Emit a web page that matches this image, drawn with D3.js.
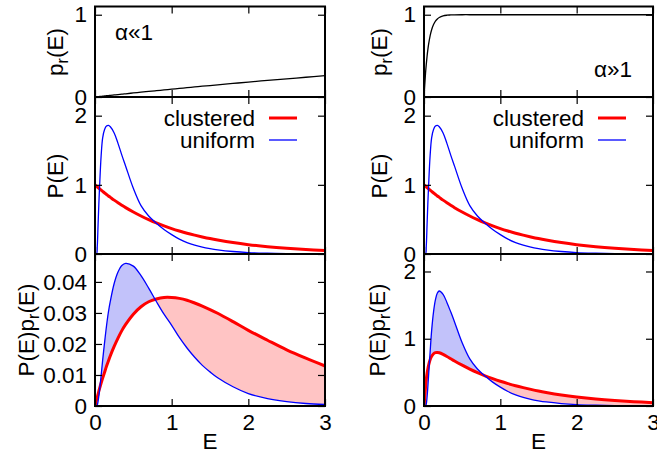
<!DOCTYPE html>
<html>
<head>
<meta charset="utf-8">
<script src="https://cdn.jsdelivr.net/npm/d3@7"></script>
<style>
  html, body { margin: 0; padding: 0; background: #fff; }
  svg { display: block; }
  text { font-family: "Liberation Sans", Arial, Helvetica, sans-serif; fill: #000; }
</style>
</head>
<body>
<svg id="chart" width="657" height="454"></svg>
<script>
// Energy grid shared by every curve
const E = [0, 0.02, 0.03, 0.04, 0.05, 0.06, 0.08, 0.1, 0.125, 0.15, 0.175, 0.2, 0.25, 0.3, 0.35, 0.4,
           0.5, 0.6, 0.7, 0.8, 0.9, 1.0, 1.1, 1.2, 1.3, 1.4, 1.5, 1.6, 1.8, 2.0, 2.25, 2.5, 2.75, 3.0];

// Response probability p_r(E), weak (alpha << 1) and strong (alpha >> 1) case
const prLow = [0, 0.002, 0.003, 0.004, 0.005, 0.006, 0.008, 0.010, 0.012, 0.015, 0.017, 0.020, 0.025, 0.030, 0.034, 0.039,
               0.049, 0.058, 0.068, 0.077, 0.086, 0.095, 0.104, 0.113, 0.122, 0.131, 0.139, 0.148, 0.165, 0.181, 0.202, 0.221, 0.240, 0.259];
const prHigh = [0, 0.288, 0.40, 0.493, 0.573, 0.639, 0.743, 0.817, 0.881, 0.922, 0.949, 0.967, 0.986, 0.994, 0.997, 0.999,
                1, 1, 1, 1, 1, 1, 1, 1, 1, 1, 1, 1, 1, 1, 1, 1, 1, 1];

// Energy distributions P(E)
const pClustered = [1, 0.980, 0.970, 0.961, 0.951, 0.942, 0.923, 0.905, 0.882, 0.861, 0.839, 0.819, 0.779, 0.741, 0.705, 0.670,
                    0.607, 0.549, 0.497, 0.449, 0.407, 0.368, 0.333, 0.301, 0.273, 0.247, 0.223, 0.202, 0.165, 0.135, 0.105, 0.082, 0.064, 0.050];
const pUniform = [0, 0, 0.12, 0.42, 0.72, 0.98, 1.42, 1.68, 1.80, 1.85, 1.86, 1.84, 1.75, 1.60, 1.43, 1.27,
                  0.95, 0.70, 0.55, 0.445, 0.355, 0.28, 0.215, 0.165, 0.127, 0.098, 0.077, 0.06, 0.036, 0.021, 0.012, 0.0065, 0.0035, 0.002];

// Products P(E) p_r(E)
const prodClusteredLow = [0, 0.0020, 0.0029, 0.0038, 0.0048, 0.0057, 0.0074, 0.0090, 0.0109, 0.0128, 0.0145, 0.0162, 0.0192, 0.0219, 0.0243, 0.0263,
                          0.0296, 0.0320, 0.0336, 0.0345, 0.0350, 0.0350, 0.0347, 0.0341, 0.0332, 0.0322, 0.0311, 0.0299, 0.0272, 0.0244, 0.0212, 0.0181, 0.0154, 0.0129];
const prodUniformLow = [0, 0, 0.0003, 0.0015, 0.0032, 0.0052, 0.0098, 0.0148, 0.0205, 0.0258, 0.0303, 0.0338, 0.0395, 0.0432, 0.0453, 0.0460,
                        0.0451, 0.0420, 0.0380, 0.0337, 0.0296, 0.0260, 0.0221, 0.0187, 0.0157, 0.0131, 0.0110, 0.0091, 0.0062, 0.0040, 0.0024, 0.0014, 0.0008, 0.0005];
const prodClusteredHigh = [0, 0.282, 0.395, 0.482, 0.550, 0.605, 0.686, 0.739, 0.777, 0.794, 0.796, 0.792, 0.768, 0.737, 0.703, 0.669,
                           0.607, 0.549, 0.497, 0.449, 0.407, 0.368, 0.333, 0.301, 0.273, 0.247, 0.223, 0.202, 0.165, 0.135, 0.105, 0.082, 0.064, 0.050];
const prodUniformHigh = [0, 0, 0.03, 0.13, 0.28, 0.45, 0.80, 1.12, 1.40, 1.58, 1.68, 1.71, 1.66, 1.54, 1.40, 1.25,
                         0.94, 0.70, 0.55, 0.445, 0.355, 0.28, 0.215, 0.165, 0.127, 0.098, 0.077, 0.06, 0.036, 0.021, 0.012, 0.0065, 0.0035, 0.002];

// Axis ticks
const xTicks = [0, 1, 2, 3];
const xTickLabels = ["0", "1", "2", "3"];
const prTicks = [0, 1];
const pTicks = [0, 1, 2];
const prodLowTicks = [0, 0.01, 0.02, 0.03, 0.04];
const prodLowTickLabels = ["0", "0.01", "0.02", "0.03", "0.04"];
const prodHighTicks = [0, 1, 2];

// Legend entries and regime labels
const seriesNames = ["clustered", "uniform"];
const regimeLabels = ["\u03b1\u00ab1", "\u03b1\u00bb1"];

// ---------------------------------------------------------------
const svg = d3.select("#chart");
const FONT = 22.5;
const SUB_FONT = 16;
const RED = "#ff0000", BLUE = "#0000ff";
const FILL_RED = "#ffc4c4", FILL_BLUE = "#c2c2fa";

const columns = [{ left: 95, right: 325 }, { left: 424, right: 653 }];
const rows = [{ top: 6.5, bottom: 97 }, { top: 97, bottom: 254 }, { top: 254, bottom: 406 }];

const curve = d3.curveCatmullRom.alpha(0.5);
let clipId = 0;

function makeX(col) {
  return d3.scaleLinear().domain([0, 3]).range([col.left, col.right]);
}

function drawFrame(g, x, y, row, yTicks, yFmt, showXLabels) {
  const tk = 7;
  const axes = [];
  // x ticks on bottom and top edges, pointing inward
  const xb = d3.axisBottom(x).tickValues(xTicks).tickSize(-tk).tickPadding(8);
  if (showXLabels) xb.tickFormat((d, i) => xTickLabels[i]);
  axes.push(g.append("g").attr("transform", `translate(0,${row.bottom})`).call(xb));
  axes.push(g.append("g").attr("transform", `translate(0,${row.top})`)
    .call(d3.axisTop(x).tickValues(xTicks).tickSize(-tk)));
  axes.push(g.append("g").attr("transform", `translate(${x.range()[0]},0)`)
    .call(d3.axisLeft(y).tickValues(yTicks).tickSize(-tk).tickPadding(8).tickFormat(yFmt)));
  axes.push(g.append("g").attr("transform", `translate(${x.range()[1]},0)`)
    .call(d3.axisRight(y).tickValues(yTicks).tickSize(-tk)));
  axes.forEach((a, k) => {
    a.select(".domain").remove();
    a.selectAll(".tick line").attr("stroke", "#000").attr("stroke-width", 1.2);
    const keepText = (k === 0 && showXLabels) || k === 2;
    if (keepText) {
      a.selectAll(".tick text").attr("font-size", FONT).attr("font-family", null).attr("fill", "#000");
    } else {
      a.selectAll(".tick text").remove();
    }
  });
  g.append("rect")
    .attr("x", x.range()[0]).attr("y", row.top)
    .attr("width", x.range()[1] - x.range()[0]).attr("height", row.bottom - row.top)
    .attr("fill", "none").attr("stroke", "#000").attr("stroke-width", 2);
}

function yTitle(g, cx, cy, parts) {
  const t = g.append("text")
    .attr("transform", `translate(${cx},${cy}) rotate(-90)`)
    .attr("text-anchor", "middle").attr("dy", "0.35em").attr("font-size", FONT);
  let shifted = false;
  parts.forEach(p => {
    const s = t.append("tspan").text(p.text);
    if (p.sub) {
      s.attr("font-size", SUB_FONT).attr("dy", 5);
      shifted = true;
    } else if (shifted) {
      s.attr("dy", -5);
      shifted = false;
    }
  });
}

const line = (x, y, vals) => d3.line().curve(curve)
  .x((d, i) => x(E[i])).y((d, i) => y(vals[i]))(vals);

// -------- top row: p_r(E)
function topPanel(colIdx, pr, label, labelPos) {
  const col = columns[colIdx], row = rows[0];
  const x = makeX(col);
  const y = d3.scaleLinear().domain([0, 1.1]).range([row.bottom, row.top]);
  const g = svg.append("g");
  g.append("path").attr("d", line(x, y, pr))
    .attr("fill", "none").attr("stroke", "#000").attr("stroke-width", 1.3);
  g.append("text").attr("font-size", FONT)
    .attr("x", labelPos.x).attr("y", labelPos.y)
    .attr("text-anchor", labelPos.anchor).text(label);
  drawFrame(g, x, y, row, prTicks, d => d3.format("d")(d), false);
  yTitle(g, colIdx === 0 ? 55 : 379, 52, [{ text: "p" }, { text: "r", sub: true }, { text: "(E)" }]);
}

// -------- middle row: P(E)
function middlePanel(colIdx) {
  const col = columns[colIdx], row = rows[1];
  const x = makeX(col);
  const y = d3.scaleLinear().domain([0, 2.27]).range([row.bottom, row.top]);
  const g = svg.append("g");
  const cp = "clipm" + (clipId++);
  g.append("clipPath").attr("id", cp).append("rect")
    .attr("x", col.left).attr("y", row.top).attr("width", col.right - col.left).attr("height", row.bottom - row.top);
  const lines = g.append("g").attr("clip-path", `url(#${cp})`);
  lines.append("path").attr("d", line(x, y, pClustered))
    .attr("fill", "none").attr("stroke", RED).attr("stroke-width", 3);
  lines.append("path").attr("d", line(x, y, pUniform))
    .attr("fill", "none").attr("stroke", BLUE).attr("stroke-width", 1.3);

  // key
  const lx = col.left + 160, sx0 = col.left + 174, sx1 = col.left + 202;
  const ly = [118, 140];
  const styles = [{ c: RED, w: 3 }, { c: BLUE, w: 1.3 }];
  seriesNames.forEach((n, i) => {
    g.append("text").attr("x", lx).attr("y", ly[i]).attr("dy", "0.35em")
      .attr("text-anchor", "end").attr("font-size", FONT).text(n);
    g.append("line").attr("x1", sx0).attr("x2", sx1).attr("y1", ly[i]).attr("y2", ly[i])
      .attr("stroke", styles[i].c).attr("stroke-width", styles[i].w);
  });

  drawFrame(g, x, y, row, pTicks, d => d3.format("d")(d), false);
  yTitle(g, colIdx === 0 ? 55 : 379, 176, [{ text: "P(E)" }]);
}

// -------- bottom row: P(E) p_r(E) with the gap between the two curves shaded
function bottomPanel(colIdx, red, blue, yMax, yTicks, yFmt, titleX) {
  const col = columns[colIdx], row = rows[2];
  const x = makeX(col);
  const y = d3.scaleLinear().domain([0, yMax]).range([row.bottom, row.top]);
  const g = svg.append("g");

  const between = d3.area().curve(curve)
    .x((d, i) => x(E[i])).y0((d, i) => y(red[i])).y1((d, i) => y(blue[i]))(E);
  const aboveRed = d3.area().curve(curve)
    .x((d, i) => x(E[i])).y0(row.top - 5).y1((d, i) => y(red[i]))(E);
  const aboveBlue = d3.area().curve(curve)
    .x((d, i) => x(E[i])).y0(row.top - 5).y1((d, i) => y(blue[i]))(E);

  const cb = "clipb" + (clipId++), cr = "clipr" + (clipId++), cf = "clipf" + (clipId++);
  g.append("clipPath").attr("id", cb).append("path").attr("d", aboveRed);
  g.append("clipPath").attr("id", cr).append("path").attr("d", aboveBlue);
  g.append("clipPath").attr("id", cf).append("rect")
    .attr("x", col.left).attr("y", row.top).attr("width", col.right - col.left).attr("height", row.bottom - row.top);

  const body = g.append("g").attr("clip-path", `url(#${cf})`);
  body.append("path").attr("d", between).attr("fill", FILL_BLUE).attr("clip-path", `url(#${cb})`);
  body.append("path").attr("d", between).attr("fill", FILL_RED).attr("clip-path", `url(#${cr})`);
  body.append("path").attr("d", line(x, y, red))
    .attr("fill", "none").attr("stroke", RED).attr("stroke-width", 3);
  body.append("path").attr("d", line(x, y, blue))
    .attr("fill", "none").attr("stroke", BLUE).attr("stroke-width", 1.3);

  drawFrame(g, x, y, row, yTicks, yFmt, true);
  yTitle(g, titleX, 330, [{ text: "P(E)p" }, { text: "r", sub: true }, { text: "(E)" }]);
  g.append("text").attr("x", (col.left + col.right) / 2).attr("y", 449)
    .attr("text-anchor", "middle").attr("font-size", FONT).text("E");
}

topPanel(0, prLow, regimeLabels[0], { x: 115, y: 40, anchor: "start" });
topPanel(1, prHigh, regimeLabels[1], { x: 632, y: 77, anchor: "end" });
middlePanel(0);
middlePanel(1);
bottomPanel(0, prodClusteredLow, prodUniformLow, 0.049, prodLowTicks, (d, i) => prodLowTickLabels[i], 26);
bottomPanel(1, prodClusteredHigh, prodUniformHigh, 2.26, prodHighTicks, d => d3.format("d")(d), 377);
</script>
</body>
</html>
